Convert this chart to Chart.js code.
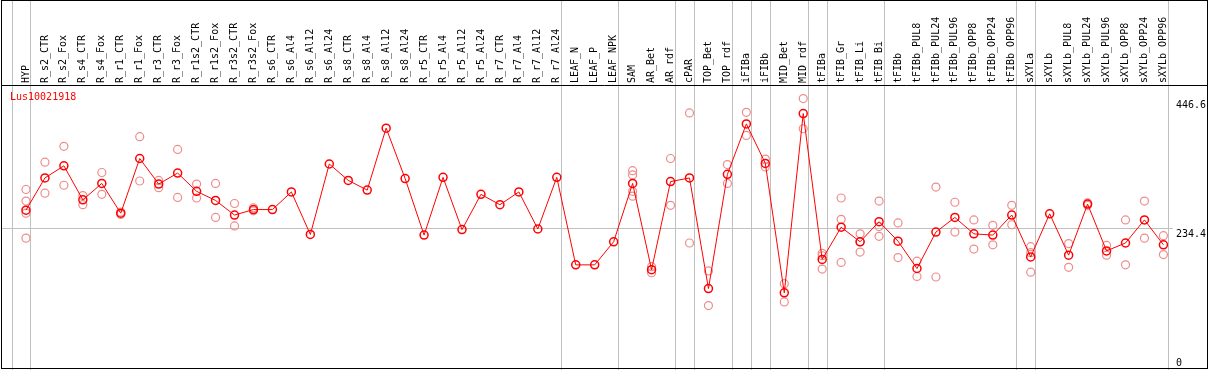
<!DOCTYPE html>
<html>
<head>
<meta charset="utf-8">
<script src="https://cdn.jsdelivr.net/npm/chart.js@4.4.1/dist/chart.umd.min.js"></script>
<style>
  body { margin: 0; background: #fff; }
  canvas { display: block; }
</style>
</head>
<body>
<canvas id="myChart" width="1209" height="370"></canvas>
<script>
const categories = ['HYP','R_s2_CTR','R_s2_Fox','R_s4_CTR','R_s4_Fox','R_r1_CTR','R_r1_Fox','R_r3_CTR','R_r3_Fox',
  'R_r1s2_CTR','R_r1s2_Fox','R_r3s2_CTR','R_r3s2_Fox','R_s6_CTR','R_s6_Al4','R_s6_Al12','R_s6_Al24',
  'R_s8_CTR','R_s8_Al4','R_s8_Al12','R_s8_Al24','R_r5_CTR','R_r5_Al4','R_r5_Al12','R_r5_Al24',
  'R_r7_CTR','R_r7_Al4','R_r7_Al12','R_r7_Al24','LEAF_N','LEAF_P','LEAF_NPK','SAM','AR_Bet','AR_rdf',
  'cPAR','TOP_Bet','TOP_rdf','iFIBa','iFIBb','MID_Bet','MID_rdf','tFIBa','tFIB_Gr','tFIB_Li','tFIB_Bi',
  'tFIBb','tFIBb_PUL8','tFIBb_PUL24','tFIBb_PUL96','tFIBb_OPP8','tFIBb_OPP24','tFIBb_OPP96',
  'sXYLa','sXYLb','sXYLb_PUL8','sXYLb_PUL24','sXYLb_PUL96','sXYLb_OPP8','sXYLb_OPP24','sXYLb_OPP96'];

// mean expression per sample
const means = [263,316,336,280,307,258,348,306,324,294,279,255,264,264,293,223,339,312,296,398,315,222,317,231,289,272,293,232,317,
  173,173,211,307,165,310,316,134,322,405,340,127,422,182,235,211,244,212,167,227,251,224,222,255,186,257,189,273,196,209,247,206];

// replicate values (null = none shown)
const N = null;
const rep1 = [297,342,368,287,325,260,384,312,363,306,307,274,267, N,N,N,N,N,N,N,N,N,N,N,N,N,N,N,N,N,N,N,
  328,170,348,423,163,338,424,347,142,446.6,192,283,224,278,242,179,301,276,247,238,271,203,N,208,275,205,247,278,221];
const rep2 = [278,291,304,272,289,256,311,300,284,283,251,237,262, N,N,N,N,N,N,N,N,N,N,N,N,N,N,N,N,N,N,N,
  321,160,271,209,106,307,386,334,112,397,188,248,211,236,185,154,153,227,199,206,239,193,N,169,271,189,173,217,190];
const rep3 = [258,N,N,N,N,N,N,N,N,N,N,N,N, N,N,N,N,N,N,N,N,N,N,N,N,N,N,N,N,N,N,N,
  294,N,N,N,N,N,N,N,N,N,166,177,194,220,N,N,N,N,N,N,N,161,N,N,N,N,N,N,N];
const rep4 = [217,N,N,N,N,N,N,N,N,N,N,N,N, N,N,N,N,N,N,N,N,N,N,N,N,N,N,N,N,N,N,N,
  286,N,N,N,N,N,N,N,N,N,N,N,N,N,N,N,N,N,N,N,N,N,N,N,N,N,N,N,N];

const yTicks = [0, 234.4, 446.6];
const yTickLabels = ['0', '234.4', '446.6'];
const refLevel = 234.4;
const geneName = 'Lus10021918';

// separators drawn after these sample indexes
const groupBreaks = [-1, 0, 28, 31, 34, 35, 37, 38, 39, 41, 42, 45, 52, 53, 60];

let repPoints = [];
[rep1, rep2, rep3, rep4].forEach(function(r) {
  r.forEach(function(v, i) {
    if (v !== null) repPoints.push({x: categories[i], y: v});
  });
});

const font = {family: 'DejaVu Sans Mono', size: 10};

const framePlugin = {
  id: 'frame',
  beforeDatasetsDraw(chart) {
    const c = chart.ctx;
    const xs = chart.scales.x, ys = chart.scales.y;
    const step = xs.getPixelForValue(1) - xs.getPixelForValue(0);
    c.save();
    c.strokeStyle = '#c0c0c0';
    c.lineWidth = 1;
    c.beginPath();
    groupBreaks.forEach(function(b) {
      const x = Math.round(xs.getPixelForValue(0) + (b + 0.237) * step) + 0.5;
      c.moveTo(x, 0);
      c.lineTo(x, chart.height);
    });
    const y = Math.round(ys.getPixelForValue(refLevel)) + 0.5;
    c.moveTo(1, y);
    c.lineTo(chart.chartArea.right, y);
    c.stroke();
    c.restore();
  },
  afterDraw(chart) {
    const c = chart.ctx;
    c.save();
    c.strokeStyle = '#000';
    c.lineWidth = 1;
    c.strokeRect(1.5, 0.5, 1206, 368);
    c.beginPath();
    const top = Math.round(chart.chartArea.top) + 0.5;
    c.moveTo(1, top);
    c.lineTo(1208, top);
    c.stroke();
    c.fillStyle = '#ff0000';
    c.font = '10px "DejaVu Sans Mono"';
    c.textBaseline = 'middle';
    c.fillText(geneName, 10, 97);
    c.restore();
  }
};

let ctx = document.getElementById('myChart').getContext('2d');

var myChart = new Chart(ctx,
{
    type: 'line',
    data:
    {
        labels: categories,
        datasets:
        [{
            label: geneName,
            data: means,
            borderColor: '#ff0000',
            borderWidth: 1,
            pointRadius: 4,
            pointBorderWidth: 1.5,
            pointBorderColor: '#ff0000',
            pointBackgroundColor: 'rgba(0,0,0,0)',
            order: 1
        },
        {
            label: 'replicates',
            data: repPoints,
            showLine: false,
            pointRadius: 4,
            pointBorderWidth: 1.2,
            pointBorderColor: 'rgb(238,140,140)',
            pointBackgroundColor: 'rgba(0,0,0,0)',
            order: 2
        }]
    },
    options:
    {
        responsive: false,
        animation: false,
        layout: {
            autoPadding: false,
            padding: {left: 16.5, top: 14.8, right: 0, bottom: 0}
        },
        plugins: {
            legend: {display: false},
            tooltip: {enabled: false}
        },
        scales:
        {
            x:
            {
                position: 'top',
                offset: true,
                grid: {display: false, drawTicks: false},
                border: {display: false},
                ticks: {
                    autoSkip: false,
                    minRotation: 90,
                    maxRotation: 90,
                    padding: 2,
                    labelOffset: 12,
                    color: '#000',
                    font: font
                }
            },
            y:
            {
                position: 'right',
                min: 0,
                max: 446.6 * 1.05,
                grid: {display: false, drawTicks: false},
                border: {display: false},
                afterBuildTicks: function(scale) {
                    scale.ticks = yTicks.map(function(v) { return {value: v}; });
                },
                afterFit: function(scale) {
                    // labels sit inside the plot height, no extra room needed
                    scale.paddingTop = 0;
                    scale.paddingBottom = 0;
                },
                ticks: {
                    padding: 3,
                    color: '#000',
                    font: {family: 'DejaVu Sans Mono', size: 10, lineHeight: 1.4},
                    callback: function(value) {
                        const t = yTickLabels[yTicks.indexOf(value)];
                        return value === 0 ? [t, ''] : ['', t];
                    }
                }
            }
        }
    },
    plugins: [framePlugin]
});
</script>
</body>
</html>
